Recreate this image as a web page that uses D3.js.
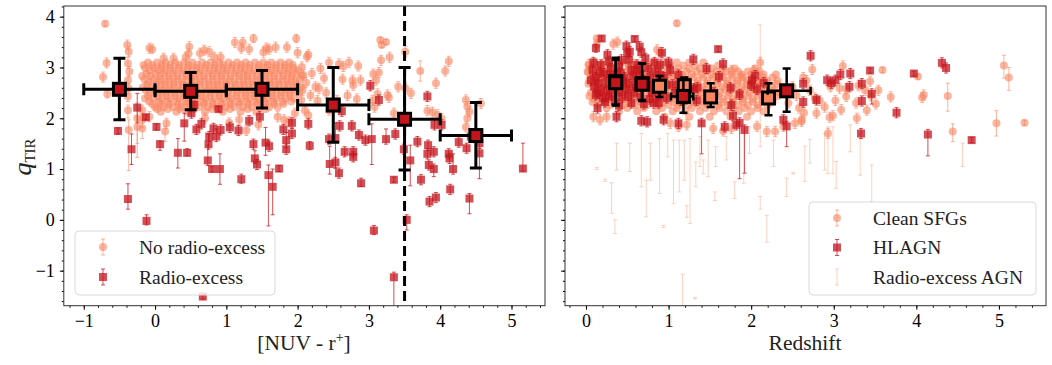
<!DOCTYPE html>
<html>
<head>
<meta charset="utf-8">
<script src="https://d3js.org/d3.v7.min.js"></script>
<style>
  body { margin: 0; background: #fff; }
  svg { font-family: 'Liberation Serif', 'DejaVu Serif', serif; }
</style>
</head>
<body>
<div class="vis"></div>
<script>
  let width = 1052
  let height = 365

  // ---------- left panel : q_TIR vs NUV - r+ ----------
  // binned medians
  let colourBinX = [-0.5, 0.5, 1.5, 2.5, 3.5, 4.5]
  let colourBinXerr = [0.5, 0.5, 0.5, 0.5, 0.5, 0.5]
  let colourBinQ = [2.57, 2.53, 2.57, 2.26, 1.98, 1.66]
  let colourBinLo = [1.97, 2.17, 2.20, 1.53, 0.98, 1.02]
  let colourBinHi = [3.18, 2.90, 2.94, 3.00, 3.00, 2.31]
  let colourCut = 3.5

  // no radio-excess : dense cloud, rows of [q, [colour values]]
  let noExcessRows = [
    [3.10, [-0.10, 0.03, 0.15, 0.28, 0.41, 0.52, 0.66, 0.78, 0.90, 1.03, 1.15, 1.27, 1.40, 1.52, 1.63, 1.76, 1.88]],
    [3.05, [-0.16, -0.04, 0.09, 0.21, 0.34, 0.47, 0.59, 0.72, 0.84, 0.96, 1.09, 1.21, 1.33, 1.46, 1.58, 1.70, 1.82, 1.93]],
    [2.99, [-0.14, -0.02, 0.09, 0.21, 0.33, 0.46, 0.58, 0.70, 0.83, 0.95, 1.07, 1.20, 1.32, 1.45, 1.57, 1.69, 1.82, 1.94]],
    [2.94, [-0.08, 0.04, 0.15, 0.27, 0.40, 0.52, 0.64, 0.77, 0.89, 1.01, 1.14, 1.26, 1.39, 1.51, 1.63, 1.76, 1.88, 2.00]],
    [2.88, [-0.12, 0.01, 0.13, 0.25, 0.38, 0.50, 0.62, 0.75, 0.87, 0.99, 1.12, 1.24, 1.36, 1.49, 1.61, 1.73, 1.86, 1.98]],
    [2.83, [-0.18, -0.06, 0.07, 0.19, 0.31, 0.44, 0.56, 0.68, 0.81, 0.93, 1.06, 1.18, 1.30, 1.43, 1.55, 1.67, 1.80, 1.92, 2.06]],
    [2.77, [-0.15, -0.03, 0.08, 0.20, 0.32, 0.44, 0.57, 0.69, 0.81, 0.93, 1.05, 1.18, 1.30, 1.42, 1.55, 1.67, 1.79, 1.91, 2.03]],
    [2.72, [-0.09, 0.03, 0.14, 0.26, 0.38, 0.51, 0.63, 0.75, 0.87, 0.99, 1.11, 1.24, 1.36, 1.48, 1.61, 1.73, 1.85, 1.97]],
    [2.66, [-0.11, 0.02, 0.14, 0.26, 0.39, 0.51, 0.63, 0.76, 0.88, 1.00, 1.13, 1.25, 1.37, 1.50, 1.62, 1.74, 1.87, 1.99]],
    [2.61, [-0.17, -0.05, 0.08, 0.20, 0.32, 0.45, 0.57, 0.70, 0.82, 0.94, 1.07, 1.19, 1.31, 1.44, 1.56, 1.68, 1.81, 1.93, 2.05]],
    [2.55, [-0.13, -0.01, 0.10, 0.22, 0.35, 0.47, 0.59, 0.72, 0.84, 0.96, 1.09, 1.21, 1.33, 1.46, 1.58, 1.70, 1.83, 1.95]],
    [2.50, [-0.07, 0.05, 0.16, 0.28, 0.41, 0.53, 0.65, 0.78, 0.90, 1.02, 1.15, 1.27, 1.39, 1.52, 1.64, 1.77, 1.89, 2.01]],
    [2.44, [-0.10, 0.04, 0.16, 0.28, 0.40, 0.53, 0.65, 0.77, 0.90, 1.02, 1.14, 1.27, 1.39, 1.51, 1.64, 1.76, 1.89]],
    [2.39, [-0.14, -0.02, 0.10, 0.22, 0.34, 0.47, 0.59, 0.71, 0.84, 0.96, 1.08, 1.21, 1.33, 1.45, 1.58, 1.70, 1.83, 1.95]],
    [2.33, [-0.08, 0.06, 0.18, 0.31, 0.43, 0.55, 0.68, 0.80, 0.92, 1.05, 1.17, 1.29, 1.42, 1.54, 1.66, 1.79, 1.91]],
    [2.28, [-0.04, 0.08, 0.20, 0.32, 0.44, 0.57, 0.69, 0.81, 0.94, 1.06, 1.18, 1.31, 1.43, 1.55, 1.67, 1.80]],
    [2.22, [0.00, 0.12, 0.25, 0.37, 0.49, 0.62, 0.74, 0.86, 0.99, 1.11, 1.23, 1.36, 1.48, 1.60, 1.72]],
    [2.18, [0.03, 0.18, 0.35, 0.55, 0.80, 1.05, 1.30, 1.55]],
    [2.13, [0.08, 0.30, 0.45, 0.70, 0.95, 1.20, 1.42]]
  ]
  // no radio-excess : scattered sources [colour, q, err down, err up]
  let noExcessPts = [
    [-0.70, 3.86, 0.05, 0.05], [-0.73, 2.81, 0.1, 0.1], [-0.68, 3.09, 0.1, 0.1], [-0.67, 2.48, 0.08, 0.08],
    [-0.39, 3.44, 0.1, 0.1], [-0.37, 3.31, 0.1, 0.1], [-0.38, 3.08, 0.1, 0.12], [-0.36, 2.92, 0.1, 0.1],
    [-0.38, 2.75, 0.1, 0.1], [-0.37, 2.59, 0.1, 0.1], [-0.38, 2.43, 0.1, 0.1], [-0.38, 2.16, 0.15, 0.1],
    [-0.25, 2.00, 0.5, 0.3], [-0.25, 1.83, 0.6, 0.2], [-0.37, 1.77, 0.8, 0.2], [-0.18, 2.16, 0.1, 0.1],
    [-0.18, 1.97, 0.15, 0.1], [-0.18, 1.80, 0.2, 0.1], [-0.08, 3.38, 0.1, 0.1], [-0.04, 3.36, 0.08, 0.1],
    [0.12, 3.18, 0.1, 0.1], [0.26, 3.18, 0.1, 0.1], [0.43, 3.20, 0.1, 0.1], [0.48, 3.41, 0.1, 0.1],
    [0.47, 3.27, 0.1, 0.1], [0.63, 3.28, 0.1, 0.1], [0.69, 3.34, 0.1, 0.1], [0.76, 3.31, 0.1, 0.1],
    [0.83, 3.20, 0.1, 0.1], [0.92, 3.20, 0.1, 0.1], [1.12, 3.49, 0.1, 0.1], [1.21, 3.38, 0.1, 0.1],
    [1.23, 3.49, 0.1, 0.1], [1.32, 3.36, 0.1, 0.1], [1.38, 3.57, 0.08, 0.08], [1.52, 3.30, 0.1, 0.1],
    [1.56, 3.38, 0.1, 0.1], [1.60, 3.36, 0.1, 0.1], [1.69, 3.40, 0.1, 0.1], [1.85, 3.40, 0.1, 0.1],
    [1.98, 3.57, 0.08, 0.08], [2.00, 3.29, 0.1, 0.1], [2.15, 3.25, 0.1, 0.1], [2.13, 3.21, 0.1, 0.1],
    [-0.08, 2.03, 0.1, 0.1], [0.16, 1.90, 0.1, 0.1], [0.14, 1.74, 0.2, 0.1], [0.70, 2.00, 0.1, 0.1],
    [1.04, 1.91, 0.1, 0.1], [1.18, 1.97, 0.1, 0.1], [1.28, 1.76, 0.1, 0.1], [1.45, 1.87, 0.1, 0.1],
    [1.72, 2.03, 0.1, 0.1], [1.81, 1.97, 0.1, 0.1], [1.88, 1.93, 0.1, 0.1], [1.96, 2.10, 0.1, 0.1],
    [2.05, 2.36, 0.1, 0.1], [2.10, 2.16, 0.1, 0.1], [2.15, 2.06, 0.1, 0.1], [2.06, 3.01, 0.1, 0.1],
    [2.08, 2.85, 0.1, 0.1], [2.12, 2.70, 0.1, 0.1], [2.07, 2.55, 0.1, 0.1], [2.18, 2.45, 0.1, 0.1],
    [2.20, 2.88, 0.1, 0.1], [2.25, 2.62, 0.1, 0.1], [2.30, 2.59, 0.1, 0.1], [2.32, 2.98, 0.1, 0.1],
    [2.37, 2.79, 0.1, 0.1], [2.28, 2.35, 0.1, 0.1], [2.44, 3.10, 0.1, 0.1], [2.44, 2.16, 0.1, 0.1],
    [2.40, 2.50, 0.1, 0.1], [2.58, 3.07, 0.1, 0.1], [2.63, 2.77, 0.1, 0.1], [2.64, 3.02, 0.1, 0.1],
    [2.72, 3.10, 0.1, 0.1], [2.77, 2.75, 0.1, 0.1], [2.78, 2.65, 0.1, 0.1], [2.85, 3.03, 0.1, 0.1],
    [2.88, 2.75, 0.1, 0.1], [2.70, 2.45, 0.1, 0.1], [2.83, 2.38, 0.1, 0.1], [2.55, 2.35, 0.1, 0.1],
    [3.06, 2.87, 0.1, 0.1], [3.10, 2.75, 0.1, 0.1], [3.05, 2.35, 0.1, 0.1], [3.12, 2.48, 0.1, 0.1],
    [3.08, 2.22, 0.1, 0.1], [3.14, 2.90, 0.1, 0.1], [3.17, 3.14, 0.1, 0.1], [3.29, 3.20, 0.1, 0.1],
    [3.16, 3.54, 0.05, 0.05], [3.24, 3.50, 0.05, 0.05], [3.18, 3.44, 0.05, 0.05], [3.51, 3.31, 0.1, 0.1],
    [3.28, 2.41, 0.1, 0.1], [3.26, 2.46, 0.1, 0.1], [3.35, 2.10, 0.1, 0.1], [3.41, 2.62, 0.1, 0.1],
    [3.51, 2.59, 0.1, 0.1], [3.59, 2.49, 0.1, 0.1], [3.72, 2.93, 0.2, 0.2], [3.94, 2.69, 0.1, 0.1],
    [4.07, 2.93, 0.1, 0.1], [4.12, 3.12, 0.1, 0.1], [3.82, 2.15, 0.1, 0.1], [3.89, 2.12, 0.1, 0.1],
    [3.96, 2.07, 0.1, 0.1], [4.02, 1.99, 0.1, 0.1], [4.36, 2.36, 0.1, 0.1], [4.38, 2.23, 0.1, 0.1],
    [4.41, 2.13, 0.1, 0.1], [4.38, 2.00, 0.1, 0.1], [4.36, 1.83, 0.1, 0.1], [4.57, 2.29, 0.1, 0.1]
  ]
  // radio-excess sources [colour, q, err down, err up]
  let excessPts = [
    [-0.52, 1.75, 0.06, 0.06], [-0.33, 1.39, 0.3, 0.3], [-0.38, 0.41, 0.2, 0.3], [-0.25, 2.21, 0.3, 0.28],
    [-0.13, 2.02, 0.05, 0.05], [-0.12, -0.02, 0.08, 0.12], [0.02, 1.83, 0.06, 0.06], [0.07, 1.49, 0.12, 0.06],
    [0.32, 1.32, 0.3, 0.28], [0.45, 1.32, 0.06, 0.08], [0.41, 1.90, 0.35, 0.2], [0.51, 2.10, 0.1, 0.1],
    [0.55, 2.26, 0.06, 0.08], [0.58, 1.78, 0.1, 0.1], [0.65, 1.89, 0.1, 0.1], [0.74, 1.17, 0.1, 0.3],
    [0.75, 1.49, 0.1, 0.2], [0.76, 1.64, 0.1, 0.1], [0.80, 1.00, 0.05, 0.05], [0.82, 1.80, 0.1, 0.1],
    [0.86, 1.64, 0.1, 0.15], [0.89, 2.18, 0.05, 0.05], [0.91, 1.00, 0.3, 0.3], [0.92, 1.77, 0.1, 0.1],
    [1.05, 1.82, 0.1, 0.1], [1.17, 1.76, 0.1, 0.1], [1.21, 0.80, 0.08, 0.1], [1.32, 1.95, 0.1, 0.1],
    [1.38, 1.49, 0.1, 0.1], [1.40, 1.21, 0.1, 0.15], [1.43, 1.09, 0.1, 0.1], [1.47, 2.03, 0.1, 0.1],
    [1.55, 1.52, 0.25, 0.3], [1.59, 0.88, 1.0, 0.2], [1.60, 1.45, 0.1, 0.1], [1.65, 0.65, 0.55, 0.35],
    [1.74, 1.01, 0.06, 0.06], [1.80, 1.78, 0.1, 0.1], [1.84, 1.57, 0.15, 0.15], [1.84, 1.39, 0.1, 0.1],
    [1.92, 1.70, 0.1, 0.1], [1.92, 1.91, 0.1, 0.1], [2.15, 1.89, 0.1, 0.1], [2.17, 1.46, 0.08, 0.08],
    [2.45, 1.10, 0.2, 0.35], [2.53, 1.13, 0.1, 0.1], [2.58, 0.92, 0.1, 0.1], [2.44, 1.59, 0.1, 0.1],
    [2.53, 1.61, 0.6, 0.3], [2.62, 2.14, 0.1, 0.1], [2.59, 1.85, 0.1, 0.1], [2.66, 1.34, 0.1, 0.1],
    [2.76, 1.85, 0.1, 0.1], [2.78, 1.34, 0.1, 0.1], [2.78, 1.24, 0.1, 0.1], [2.86, 1.67, 0.1, 0.1],
    [2.89, 0.72, 0.06, 0.1], [2.95, 1.57, 0.1, 0.1], [3.02, 2.64, 0.1, 0.1], [3.04, 1.59, 0.5, 0.3],
    [3.07, -0.21, 0.08, 0.1], [3.14, 2.36, 0.1, 0.1], [3.24, 1.59, 0.1, 0.2], [3.35, 0.79, 0.05, 0.05],
    [3.35, -1.13, 0.8, 0.1], [3.37, 1.69, 0.1, 0.1], [3.49, 1.39, 0.1, 0.1], [3.53, 0.00, 0.2, 0.1],
    [3.58, 1.17, 0.5, 0.3], [3.68, 1.54, 0.1, 0.1], [3.73, 0.79, 0.1, 0.1], [3.82, 2.43, 0.1, 0.1],
    [3.83, 1.47, 0.1, 0.1], [3.82, 1.30, 0.1, 0.1], [3.85, 0.36, 0.1, 0.1], [3.84, 1.08, 0.1, 0.1],
    [3.91, 1.34, 0.1, 0.1], [3.91, 1.00, 0.15, 0.1], [3.94, 0.44, 0.1, 0.1], [3.92, 1.87, 0.1, 0.1],
    [4.02, 1.87, 0.1, 0.1], [4.12, 1.30, 0.1, 0.1], [4.13, 1.21, 0.1, 0.1], [4.14, 0.60, 0.1, 0.1],
    [4.18, 1.00, 0.1, 0.3], [4.26, 1.53, 0.1, 0.1], [4.37, 1.41, 0.1, 0.1], [4.41, 0.42, 0.3, 0.1],
    [4.43, 1.64, 0.1, 0.1], [4.55, 1.31, 0.5, 0.1], [4.55, 1.51, 0.1, 0.1], [5.16, 1.01, 0.05, 0.5],
    [0.67, -1.51, 0.05, 0.05]
  ]

  // ---------- right panel : q_TIR vs redshift ----------
  let sfgBinZ = [0.36, 0.68, 0.89, 1.19, 1.51, 2.21]
  let sfgBinQ = [2.72, 2.68, 2.63, 2.64, 2.42, 2.40]
  let sfgBinLo = [2.25, 2.34, 2.42, 2.30, 2.22, 2.06]
  let sfgBinHi = [3.15, 3.08, 2.83, 2.80, 2.69, 2.69]
  let agnBinZ = [0.36, 0.68, 1.18, 2.43]
  let agnBinQ = [2.70, 2.67, 2.43, 2.54]
  let agnBinLo = [2.27, 2.36, 2.11, 2.13]
  let agnBinHi = [3.19, 3.08, 2.78, 2.98]
  let agnBinZlo = [0.30, 0.62, 1.03, 2.20]
  let agnBinZhi = [0.42, 0.75, 1.30, 2.72]

  // clean SFGs : dense cloud rows of [q, [redshifts]]
  let sfgRows = [
    [3.10, [0.10, 0.22, 0.34, 0.46, 0.58, 0.70, 0.82, 0.95, 1.10, 1.25, 1.42]],
    [3.04, [0.04, 0.16, 0.28, 0.40, 0.52, 0.64, 0.76, 0.88, 1.02, 1.18, 1.32, 1.60]],
    [2.98, [0.05, 0.16, 0.28, 0.40, 0.52, 0.64, 0.76, 0.88, 1.00, 1.12, 1.25, 1.38, 1.52, 1.66, 1.80, 2.05]],
    [2.92, [0.02, 0.14, 0.26, 0.38, 0.50, 0.62, 0.74, 0.86, 0.98, 1.10, 1.22, 1.34, 1.46, 1.58, 1.70, 1.84, 1.96, 2.10]],
    [2.86, [0.08, 0.20, 0.32, 0.44, 0.56, 0.68, 0.80, 0.92, 1.04, 1.16, 1.28, 1.40, 1.52, 1.64, 1.76, 1.88, 2.00, 2.15, 2.30]],
    [2.80, [0.10, 0.22, 0.34, 0.46, 0.58, 0.70, 0.82, 0.94, 1.06, 1.18, 1.30, 1.42, 1.54, 1.66, 1.78, 1.90, 2.02, 2.14, 2.26]],
    [2.74, [0.04, 0.15, 0.27, 0.39, 0.51, 0.63, 0.75, 0.87, 0.99, 1.11, 1.23, 1.35, 1.47, 1.59, 1.71, 1.83, 1.95, 2.07, 2.19, 2.32]],
    [2.68, [0.03, 0.15, 0.27, 0.39, 0.51, 0.63, 0.75, 0.87, 0.99, 1.11, 1.23, 1.35, 1.47, 1.59, 1.71, 1.83, 1.95, 2.07, 2.19, 2.31]],
    [2.62, [0.09, 0.21, 0.33, 0.45, 0.57, 0.69, 0.81, 0.93, 1.05, 1.17, 1.29, 1.41, 1.53, 1.65, 1.77, 1.89, 2.01, 2.13, 2.25, 2.38]],
    [2.56, [0.12, 0.24, 0.36, 0.48, 0.60, 0.72, 0.84, 0.96, 1.08, 1.20, 1.32, 1.44, 1.56, 1.68, 1.80, 1.92, 2.04, 2.16, 2.28, 2.40]],
    [2.50, [0.06, 0.18, 0.30, 0.42, 0.54, 0.66, 0.78, 0.90, 1.02, 1.14, 1.26, 1.38, 1.50, 1.62, 1.74, 1.86, 1.98, 2.10, 2.22, 2.34]],
    [2.44, [0.04, 0.16, 0.28, 0.40, 0.52, 0.64, 0.76, 0.88, 1.00, 1.12, 1.24, 1.36, 1.48, 1.60, 1.72, 1.84, 1.96, 2.08, 2.20, 2.32]],
    [2.38, [0.10, 0.22, 0.34, 0.46, 0.58, 0.70, 0.82, 0.94, 1.06, 1.18, 1.30, 1.42, 1.54, 1.66, 1.78, 1.90, 2.02, 2.14, 2.26]],
    [2.32, [0.08, 0.22, 0.38, 0.52, 0.66, 0.80, 0.94, 1.06, 1.18, 1.30, 1.42, 1.54, 1.66, 1.78, 1.90, 2.02, 2.14, 2.26]],
    [2.26, [0.14, 0.30, 0.45, 0.60, 0.74, 0.88, 1.00, 1.12, 1.24, 1.36, 1.48, 1.60, 1.72, 1.84, 1.96, 2.08, 2.20]],
    [2.20, [0.25, 0.50, 0.70, 0.92, 1.10, 1.28, 1.45, 1.62, 1.78, 1.92, 2.08]],
    [2.14, [0.40, 0.62, 0.85, 1.05, 1.20, 1.38, 1.55, 1.70, 1.85, 2.00, 2.15]],
    [2.03, [0.95, 1.25, 1.50, 1.75, 1.95]]
  ]
  // clean SFGs : scattered sources [z, q, err down, err up]
  let sfgPts = [
    [1.10, 3.87, 0.05, 0.05], [0.03, 3.06, 0.1, 0.1], [0.03, 2.90, 0.1, 0.1], [0.13, 3.57, 0.05, 0.05],
    [0.13, 3.45, 0.1, 0.1], [0.33, 3.46, 0.1, 0.1], [0.38, 3.50, 0.1, 0.1], [0.86, 3.35, 0.1, 0.1],
    [0.90, 3.29, 0.1, 0.1], [2.11, 3.10, 0.1, 0.1], [2.03, 2.94, 0.1, 0.1], [1.76, 2.94, 0.1, 0.1],
    [1.88, 2.81, 0.1, 0.1], [0.09, 2.03, 0.1, 0.1], [0.17, 1.97, 0.1, 0.1], [0.25, 2.03, 0.1, 0.1],
    [1.02, 1.90, 0.1, 0.1], [1.12, 1.84, 0.1, 0.1], [1.22, 1.87, 0.1, 0.1], [1.54, 1.80, 0.1, 0.1],
    [1.66, 1.75, 0.1, 0.1], [1.76, 1.80, 0.1, 0.1], [2.07, 1.84, 0.1, 0.1], [2.19, 1.74, 0.1, 0.1],
    [2.29, 1.74, 0.1, 0.1], [2.39, 1.84, 0.1, 0.1], [2.53, 1.90, 0.1, 0.1], [2.61, 1.97, 0.1, 0.1],
    [2.45, 2.30, 0.1, 0.1], [2.50, 2.62, 0.1, 0.1], [2.55, 2.45, 0.1, 0.1], [2.58, 2.20, 0.1, 0.1],
    [2.74, 2.96, 0.1, 0.1], [3.11, 3.03, 0.1, 0.1], [3.59, 2.95, 0.05, 0.05], [4.02, 2.82, 0.05, 0.05],
    [3.69, 2.42, 0.1, 0.1], [4.07, 2.41, 0.1, 0.1], [4.09, 2.46, 0.1, 0.1], [4.38, 2.44, 0.3, 0.25],
    [4.44, 1.74, 0.2, 0.15], [4.97, 1.90, 0.25, 0.25], [5.06, 3.04, 0.25, 0.2], [5.12, 2.80, 0.25, 0.2],
    [5.31, 1.91, 0.05, 0.05], [3.54, 2.55, 0.1, 0.1], [3.44, 2.73, 0.1, 0.1], [3.51, 2.28, 0.1, 0.1],
    [3.40, 2.16, 0.1, 0.1], [3.28, 2.00, 0.1, 0.1], [3.27, 2.30, 0.1, 0.1], [3.09, 2.17, 0.1, 0.1],
    [3.15, 2.43, 0.1, 0.1], [3.07, 2.59, 0.1, 0.1], [2.93, 1.70, 0.1, 0.1], [2.99, 2.05, 0.1, 0.1],
    [2.95, 2.02, 0.1, 0.1], [2.89, 2.22, 0.1, 0.1], [2.83, 2.35, 0.1, 0.1], [2.79, 2.10, 0.1, 0.1],
    [2.77, 2.40, 0.1, 0.1], [2.71, 2.55, 0.1, 0.1], [2.67, 2.74, 0.1, 0.1], [2.63, 2.80, 0.1, 0.1],
    [2.64, 2.11, 0.1, 0.1], [2.61, 1.94, 0.1, 0.1], [3.02, 2.35, 0.1, 0.1], [2.96, 2.62, 0.1, 0.1],
    [3.15, 2.58, 0.1, 0.1], [3.30, 2.64, 0.1, 0.1], [3.38, 2.55, 0.1, 0.1], [3.45, 2.44, 0.1, 0.1]
  ]
  // HLAGN [z, q, err down, err up]
  let hlagnPts = [
    [0.08, 2.95, 0.1, 0.1], [0.12, 2.80, 0.1, 0.1], [0.10, 2.62, 0.1, 0.1], [0.15, 2.70, 0.1, 0.1],
    [0.18, 3.05, 0.1, 0.1], [0.22, 2.88, 0.1, 0.1], [0.25, 2.55, 0.1, 0.1], [0.20, 2.40, 0.1, 0.1],
    [0.28, 3.12, 0.1, 0.1], [0.30, 2.98, 0.1, 0.1], [0.33, 2.78, 0.1, 0.1], [0.36, 2.62, 0.1, 0.1],
    [0.31, 2.47, 0.1, 0.1], [0.35, 2.33, 0.1, 0.1], [0.40, 3.02, 0.1, 0.1], [0.42, 2.90, 0.1, 0.1],
    [0.45, 2.72, 0.1, 0.1], [0.48, 2.58, 0.1, 0.1], [0.44, 2.42, 0.1, 0.1], [0.50, 3.28, 0.1, 0.1],
    [0.52, 3.15, 0.1, 0.1], [0.55, 2.95, 0.1, 0.1], [0.57, 2.82, 0.1, 0.1], [0.53, 2.66, 0.1, 0.1],
    [0.58, 2.50, 0.1, 0.1], [0.55, 2.30, 0.1, 0.1], [0.62, 3.05, 0.1, 0.1], [0.65, 2.88, 0.1, 0.1],
    [0.63, 2.72, 0.1, 0.1], [0.68, 2.60, 0.1, 0.1], [0.66, 2.42, 0.1, 0.1], [0.70, 2.28, 0.1, 0.1],
    [0.72, 3.18, 0.1, 0.1], [0.75, 2.98, 0.1, 0.1], [0.78, 2.80, 0.1, 0.1], [0.74, 2.65, 0.1, 0.1],
    [0.80, 2.50, 0.1, 0.1], [0.77, 2.38, 0.1, 0.1], [0.84, 2.92, 0.1, 0.1], [0.86, 2.70, 0.1, 0.1],
    [0.82, 2.30, 0.1, 0.1], [0.90, 3.05, 0.1, 0.1], [0.92, 2.55, 0.1, 0.1], [0.95, 2.80, 0.1, 0.1],
    [0.98, 2.40, 0.1, 0.1], [1.02, 2.95, 0.1, 0.1], [1.05, 2.66, 0.1, 0.1], [1.08, 2.50, 0.1, 0.1],
    [1.12, 2.85, 0.1, 0.1], [1.15, 2.35, 0.1, 0.1], [1.22, 2.72, 0.1, 0.1], [1.26, 2.55, 0.1, 0.1],
    [1.35, 2.60, 0.1, 0.1], [1.55, 2.50, 0.1, 0.1], [1.75, 2.60, 0.1, 0.1], [2.15, 2.70, 0.1, 0.1],
    [0.06, 2.75, 0.1, 0.1], [0.09, 3.10, 0.1, 0.1], [0.14, 2.50, 0.1, 0.1], [0.17, 2.90, 0.1, 0.1],
    [0.24, 2.70, 0.1, 0.1], [0.27, 2.42, 0.1, 0.1], [0.29, 2.85, 0.1, 0.1], [0.38, 2.88, 0.1, 0.1],
    [0.39, 2.52, 0.1, 0.1], [0.43, 3.15, 0.1, 0.1], [0.47, 2.80, 0.1, 0.1], [0.51, 2.45, 0.1, 0.1],
    [0.60, 2.62, 0.1, 0.1], [0.61, 2.95, 0.1, 0.1], [0.67, 3.30, 0.1, 0.1], [0.71, 2.75, 0.1, 0.1],
    [0.79, 2.62, 0.1, 0.1], [0.83, 3.10, 0.1, 0.1], [0.88, 2.45, 0.1, 0.1], [0.90, 2.85, 0.1, 0.1],
    [0.97, 2.65, 0.1, 0.1], [1.00, 3.10, 0.1, 0.1], [0.40, 2.25, 0.1, 0.1], [0.18, 2.55, 0.1, 0.1],
    [0.26, 3.25, 0.1, 0.1], [0.88, 2.30, 0.1, 0.1],
    [0.12, 3.38, 0.08, 0.08], [0.19, 3.57, 0.05, 0.05], [0.59, 3.56, 0.05, 0.05], [0.49, 3.42, 0.1, 0.1],
    [0.53, 3.31, 0.1, 0.1], [0.65, 3.41, 0.1, 0.1], [0.92, 3.29, 0.1, 0.1], [1.30, 3.16, 0.1, 0.1],
    [1.60, 3.36, 0.05, 0.05], [1.66, 3.07, 0.1, 0.1], [1.61, 2.82, 0.1, 0.1], [1.46, 2.98, 0.1, 0.1],
    [1.34, 2.35, 0.1, 0.1], [1.40, 1.90, 0.6, 0.1], [1.30, 2.58, 0.1, 0.1], [1.12, 1.90, 0.1, 0.1],
    [0.94, 1.97, 0.1, 0.1], [0.74, 1.93, 0.1, 0.1], [0.67, 1.95, 0.1, 0.1], [0.37, 2.03, 0.1, 0.1],
    [0.14, 2.20, 0.1, 0.1], [0.23, 2.32, 0.1, 0.1], [0.12, 2.46, 0.1, 0.1], [1.76, 2.26, 0.1, 0.1],
    [1.78, 2.05, 0.1, 0.1], [1.82, 1.87, 0.1, 0.1], [1.92, 1.77, 0.85, 0.1], [1.86, 1.91, 1.1, 0.1],
    [1.68, 1.83, 0.1, 0.1], [2.01, 2.75, 0.1, 0.1], [2.05, 2.84, 0.1, 0.1], [2.00, 2.65, 0.1, 0.1],
    [2.43, 1.84, 0.4, 0.1], [2.39, 1.97, 0.1, 0.1], [1.86, 2.47, 0.1, 0.1], [2.07, 2.57, 0.1, 0.1],
    [2.72, 3.23, 0.1, 0.1], [2.63, 2.68, 0.1, 0.1], [2.63, 2.32, 0.1, 0.1], [2.79, 2.36, 0.1, 0.1],
    [2.92, 2.75, 0.1, 0.1], [2.97, 2.69, 0.1, 0.1], [3.02, 2.75, 0.1, 0.1], [3.08, 2.86, 0.1, 0.1],
    [3.20, 2.88, 0.1, 0.1], [3.19, 2.62, 0.1, 0.1], [3.34, 2.68, 0.1, 0.1], [3.34, 2.34, 0.1, 0.1],
    [3.33, 1.70, 0.1, 0.1], [3.44, 2.94, 0.05, 0.05], [3.46, 2.48, 0.2, 0.1], [3.76, 2.11, 0.1, 0.1],
    [3.97, 2.88, 0.05, 0.05], [4.14, 1.68, 0.42, 0.1], [4.31, 3.09, 0.1, 0.1], [4.36, 2.99, 0.1, 0.1],
    [4.67, 1.57, 0.05, 0.05]
  ]
  // radio-excess AGN, error bars only [z, top, bottom]
  let agnBars = [
    [0.13, 1.03, 0.99], [0.23, 0.80, 0.76], [0.31, 0.73, 0.13], [0.35, 0.00, -0.27], [0.37, 1.51, 0.98],
    [0.53, 1.51, 0.95], [0.67, 1.70, 0.65], [0.73, 0.78, 0.06], [0.78, 1.51, 0.78], [0.89, 1.60, 0.52],
    [0.94, -0.11, -0.15], [0.99, 1.70, 1.24], [1.06, 1.57, 0.32], [1.13, 1.57, 0.55], [1.19, 1.57, 0.78],
    [1.22, 0.28, 0.05], [1.26, 1.60, -0.07], [1.33, 1.14, 0.65], [1.38, 1.64, 1.05], [1.42, 1.18, 0.91],
    [1.48, 1.57, 0.85], [1.56, 0.55, 0.38], [1.57, 1.44, 1.05], [1.70, 1.64, 1.18], [1.80, 0.75, 0.42],
    [1.91, 1.77, 0.72], [1.98, 1.83, 1.31], [2.11, 3.84, 1.44], [2.11, 0.46, 0.21], [2.19, 0.09, -0.44],
    [2.27, 1.57, 1.05], [2.43, 0.82, 0.46], [2.51, 0.93, 0.90], [1.17, -1.07, -1.75], [1.32, -1.53, -1.56],
    [2.65, 1.45, 0.76], [2.71, 1.58, 1.12], [2.89, 1.70, 0.98], [2.93, 1.83, 0.91], [2.99, 1.83, 0.91],
    [3.03, 1.15, 0.62], [3.20, 1.87, 1.34], [3.32, 1.70, 0.88], [3.46, 1.08, 0.36], [4.56, 1.51, 1.05]
  ]

  // ---------- layout ----------
  let salmon = '#f9845f'
  let red = '#c4141c'
  let pale = '#fcb296'

  let svg = d3.select('.vis').append('svg')
    .attr('width', width).attr('height', height)
    .attr('viewBox', [0, 0, width, height])

  let y = d3.scaleLinear().domain([-1.69, 4.21]).range([305.7, 6])
  let xL = d3.scaleLinear().domain([-1.28, 5.47]).range([63.8, 545])
  let xR = d3.scaleLinear().domain([-0.254, 5.57]).range([565, 1046])

  // cloud members are plotted without their (hidden) error bars
  let flatten = (rows) => rows.flatMap(([q, xs]) => xs.map((v) => [v, q, 0, 0]))

  svg.append('defs').selectAll('clipPath')
    .data([['clipL', xL], ['clipR', xR]])
    .join('clipPath').attr('id', (d) => d[0])
    .append('rect')
    .attr('x', (d) => d[1].range()[0]).attr('y', 6)
    .attr('width', (d) => d[1].range()[1] - d[1].range()[0]).attr('height', 299.7)

  function errorPoints(g, x, pts, opt) {
    let grp = g.append('g')
    let withErr = pts.filter((d) => d[2] > 0 || d[3] > 0)
    grp.selectAll('line.v').data(withErr).join('line')
      .attr('x1', (d) => x(d[0])).attr('x2', (d) => x(d[0]))
      .attr('y1', (d) => y(d[1] - d[2])).attr('y2', (d) => y(d[1] + d[3]))
      .attr('stroke', opt.color).attr('stroke-opacity', opt.opacity).attr('stroke-width', 1)
    ;[2, 3].forEach((k) => {
      grp.append('g').selectAll('line').data(withErr).join('line')
        .attr('x1', (d) => x(d[0]) - 2).attr('x2', (d) => x(d[0]) + 2)
        .attr('y1', (d) => y(d[1] + (k == 2 ? -d[2] : d[3])))
        .attr('y2', (d) => y(d[1] + (k == 2 ? -d[2] : d[3])))
        .attr('stroke', opt.color).attr('stroke-opacity', opt.opacity).attr('stroke-width', 1)
    })
    if (opt.shape == 'circle') {
      grp.append('g').selectAll('circle').data(pts).join('circle')
        .attr('cx', (d) => x(d[0])).attr('cy', (d) => y(d[1])).attr('r', 4)
        .attr('fill', opt.color).attr('fill-opacity', opt.opacity)
    } else {
      grp.append('g').selectAll('rect').data(pts).join('rect')
        .attr('x', (d) => x(d[0]) - 4).attr('y', (d) => y(d[1]) - 4)
        .attr('width', 8).attr('height', 8)
        .attr('fill', opt.color).attr('fill-opacity', opt.opacity)
    }
  }

  function binMarkers(g, x, bx, bq, lo, hi, xlo, xhi, fill, w, cap, size) {
    let data = bx.map((v, i) => ({ x: v, q: bq[i], lo: lo[i], hi: hi[i], xlo: xlo ? xlo[i] : null, xhi: xhi ? xhi[i] : null }))
    let grp = g.append('g').attr('stroke', '#000').attr('stroke-width', w)
    data.forEach((d) => {
      grp.append('line').attr('x1', x(d.x)).attr('x2', x(d.x)).attr('y1', y(d.lo)).attr('y2', y(d.hi))
      grp.append('line').attr('x1', x(d.x) - cap).attr('x2', x(d.x) + cap).attr('y1', y(d.lo)).attr('y2', y(d.lo))
      grp.append('line').attr('x1', x(d.x) - cap).attr('x2', x(d.x) + cap).attr('y1', y(d.hi)).attr('y2', y(d.hi))
      if (d.xlo != null) {
        grp.append('line').attr('x1', x(d.xlo)).attr('x2', x(d.xhi)).attr('y1', y(d.q)).attr('y2', y(d.q))
        grp.append('line').attr('x1', x(d.xlo)).attr('x2', x(d.xlo)).attr('y1', y(d.q) - cap).attr('y2', y(d.q) + cap)
        grp.append('line').attr('x1', x(d.xhi)).attr('x2', x(d.xhi)).attr('y1', y(d.q) - cap).attr('y2', y(d.q) + cap)
      }
    })
    grp.selectAll('rect').data(data).join('rect')
      .attr('x', (d) => x(d.x) - size / 2).attr('y', (d) => y(d.q) - size / 2)
      .attr('width', size).attr('height', size)
      .attr('fill', fill).attr('stroke-width', 3)
  }

  function axes(x, showYLabels, minorX) {
    let g = svg.append('g').attr('font-size', 18).attr('fill', '#222')
    let [x0, x1] = x.range()
    g.append('g').attr('transform', `translate(0,${305.7})`)
      .call(d3.axisBottom(x).tickValues(d3.range(Math.ceil(x.domain()[0]), x.domain()[1], 1)).tickSize(4).tickPadding(5).tickFormat(d3.format('d')))
      .call((a) => a.select('.domain').remove())
      .call((a) => a.selectAll('text').attr('font-size', 18).attr('font-family', 'Liberation Serif'))
    g.append('g').attr('transform', `translate(0,${305.7})`)
      .call(d3.axisBottom(x).tickValues(minorX).tickSize(2).tickFormat(''))
      .call((a) => a.select('.domain').remove())
    g.append('g').attr('transform', `translate(${x0},0)`)
      .call(d3.axisLeft(y).tickValues([-1, 0, 1, 2, 3, 4]).tickSize(4).tickPadding(5)
        .tickFormat(showYLabels ? d3.format('d') : ''))
      .call((a) => a.select('.domain').remove())
      .call((a) => a.selectAll('text').attr('font-size', 18).attr('font-family', 'Liberation Serif'))
    g.append('g').attr('transform', `translate(${x0},0)`)
      .call(d3.axisLeft(y).tickValues(d3.range(-1.6, 4.21, 0.2)).tickSize(2).tickFormat(''))
      .call((a) => a.select('.domain').remove())
    svg.append('rect').attr('x', x0).attr('y', 6).attr('width', x1 - x0).attr('height', 299.7)
      .attr('fill', 'none').attr('stroke', '#333').attr('stroke-width', 1)
  }

  // ---- left panel ----
  let left = svg.append('g').attr('clip-path', 'url(#clipL)')
  errorPoints(left, xL, flatten(noExcessRows).concat(noExcessPts), { color: salmon, opacity: 0.6, shape: 'circle' })
  errorPoints(left, xL, excessPts, { color: red, opacity: 0.75, shape: 'square' })
  left.append('line')
    .attr('x1', xL(colourCut)).attr('x2', xL(colourCut))
    .attr('y1', y.range()[1]).attr('y2', y.range()[0])
    .attr('stroke', '#000').attr('stroke-width', 3).attr('stroke-dasharray', '10,5')
  binMarkers(left, xL, colourBinX, colourBinQ, colourBinLo, colourBinHi,
    colourBinX.map((v, i) => v - colourBinXerr[i]), colourBinX.map((v, i) => v + colourBinXerr[i]),
    red, 3, 6, 12)
  axes(xL, true, d3.range(-1.2, 5.41, 0.2))

  // ---- right panel ----
  let right = svg.append('g').attr('clip-path', 'url(#clipR)')
  let agnG = right.append('g').attr('stroke', pale).attr('stroke-opacity', 0.6)
  agnG.selectAll('line.v').data(agnBars).join('line')
    .attr('x1', (d) => xR(d[0])).attr('x2', (d) => xR(d[0]))
    .attr('y1', (d) => y(d[1])).attr('y2', (d) => y(d[2]))
  ;[1, 2].forEach((k) => {
    agnG.append('g').selectAll('line').data(agnBars).join('line')
      .attr('x1', (d) => xR(d[0]) - 2).attr('x2', (d) => xR(d[0]) + 2)
      .attr('y1', (d) => y(d[k])).attr('y2', (d) => y(d[k]))
  })
  errorPoints(right, xR, flatten(sfgRows).concat(sfgPts), { color: salmon, opacity: 0.6, shape: 'circle' })
  errorPoints(right, xR, hlagnPts, { color: red, opacity: 0.75, shape: 'square' })
  binMarkers(right, xR, sfgBinZ, sfgBinQ, sfgBinLo, sfgBinHi, null, null, salmon, 2.5, 4, 12)
  binMarkers(right, xR, agnBinZ, agnBinQ, agnBinLo, agnBinHi, agnBinZlo, agnBinZhi, red, 2.5, 4, 12)
  axes(xR, false, d3.range(-0.2, 5.57, 0.2))

  // ---- axis labels ----
  let xl = svg.append('text').attr('x', 304).attr('y', 350).attr('text-anchor', 'middle')
    .attr('font-size', 21.5).attr('fill', '#222')
  xl.append('tspan').text('[NUV - r')
  xl.append('tspan').attr('dy', -8).attr('font-size', 14).text('+')
  xl.append('tspan').attr('dy', 8).text(']')
  svg.append('text').attr('x', 805).attr('y', 350).attr('text-anchor', 'middle')
    .attr('font-size', 21.5).attr('fill', '#222').text('Redshift')
  let yl = svg.append('text').attr('transform', 'translate(31,157) rotate(-90)')
    .attr('text-anchor', 'middle').attr('fill', '#222')
  yl.append('tspan').attr('font-size', 26).attr('font-style', 'italic').text('q')
  yl.append('tspan').attr('font-size', 15).attr('dy', 4).text('TIR')

  // ---- legends ----
  function legend(x0, y0, w, h, items) {
    let g = svg.append('g')
    g.append('rect').attr('x', x0).attr('y', y0).attr('width', w).attr('height', h).attr('rx', 4)
      .attr('fill', '#fff').attr('fill-opacity', 0.8).attr('stroke', '#d9d9d9')
    items.forEach((it, i) => {
      let cx = x0 + 28, cy = y0 + 16 + i * (it.step)
      g.append('line').attr('x1', cx).attr('x2', cx).attr('y1', cy - 8).attr('y2', cy + 8)
        .attr('stroke', it.color).attr('stroke-opacity', it.opacity)
      ;[-8, 8].forEach((o) => g.append('line').attr('x1', cx - 2).attr('x2', cx + 2)
        .attr('y1', cy + o).attr('y2', cy + o).attr('stroke', it.color).attr('stroke-opacity', it.opacity))
      if (it.shape == 'circle') g.append('circle').attr('cx', cx).attr('cy', cy).attr('r', 4)
        .attr('fill', it.color).attr('fill-opacity', it.opacity)
      if (it.shape == 'square') g.append('rect').attr('x', cx - 4).attr('y', cy - 4).attr('width', 8).attr('height', 8)
        .attr('fill', it.color).attr('fill-opacity', it.opacity)
      g.append('text').attr('x', x0 + 64).attr('y', cy).attr('dy', '0.35em')
        .attr('font-size', 19.5).attr('fill', '#222').text(it.label)
    })
  }
  legend(75, 231, 200, 64, [
    { label: 'No radio-excess', color: salmon, opacity: 0.6, shape: 'circle', step: 30 },
    { label: 'Radio-excess', color: red, opacity: 0.75, shape: 'square', step: 30 }
  ])
  legend(809, 202, 227, 93, [
    { label: 'Clean SFGs', color: salmon, opacity: 0.6, shape: 'circle', step: 29.5 },
    { label: 'HLAGN', color: red, opacity: 0.75, shape: 'square', step: 29.5 },
    { label: 'Radio-excess AGN', color: pale, opacity: 0.6, shape: 'none', step: 29.5 }
  ])
</script>
</body>
</html>
